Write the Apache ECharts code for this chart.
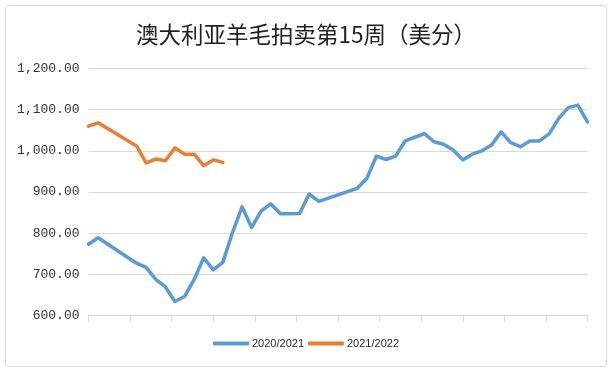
<!DOCTYPE html>
<html>
<head>
<meta charset="utf-8">
<script src="https://cdn.jsdelivr.net/npm/echarts@6/dist/echarts.min.js"></script>
<style>
html,body{margin:0;padding:0;background:#fff;}
#c{width:612px;height:372px;}
</style>
</head>
<body>
<div id="c"></div>
<script>
// week slots 0..52 (null = no sale that week)
var seriesNames = ['2020/2021', '2021/2022'];
var values2020 = [773, 789, null, null, null, 727, 717, 688, 670, 634, 646, 687, 740, 711, 729, 801, 864, 814, 854, 871, 847, 847, 848, 895, 877, null, null, null, 909, 933, 987, 979, 987, 1024, 1033, 1042, 1022, 1016, 1002, 978, 992, 1000, 1014, 1046, 1020, 1010, 1024, 1024, 1041, 1079, 1105, 1111, 1070];
var values2021 = [1060, 1068, null, null, null, 1012, 971, 980, 976, 1007, 992, 992, 964, 978, 972];
var yTicks = [600, 700, 800, 900, 1000, 1100, 1200];
var weekCount = 52;
var monthCount = 12;

function toPairs(arr) {
  var out = [];
  for (var i = 0; i < arr.length; i++) {
    if (arr[i] !== null) out.push([i, arr[i]]);
  }
  return out;
}
function fmt(v) {
  var s = Math.round(v).toString();
  s = s.replace(/\B(?=(\d{3})+(?!\d))/g, ',');
  return s + '.00';
}

var chart = echarts.init(document.getElementById('c'), null, {renderer: 'canvas'});
chart.setOption({
  backgroundColor: '#ffffff',
  animation: false,
  graphic: [{
    type: 'rect',
    shape: {x: 5.5, y: 5.5, width: 601, height: 361, r: 3},
    style: {fill: 'none', stroke: '#d9d9d9', lineWidth: 1},
    silent: true
  }],
  title: {
    text: '澳大利亚羊毛拍卖第15周（美分）',
    left: 'center',
    top: 18,
    textStyle: {
      fontFamily: '"Noto Sans CJK SC", sans-serif',
      fontSize: 22.5,
      fontWeight: 'normal',
      color: '#1f1f1f'
    }
  },
  legend: {
    bottom: 18,
    left: 'center',
    itemWidth: 36,
    itemHeight: 4,
    itemGap: 4,
    icon: 'roundRect',
    textStyle: {
      fontFamily: '"Liberation Sans", Arial, sans-serif',
      fontSize: 11,
      color: '#262626',
      padding: [0, 0, 0, -2]
    },
    data: seriesNames
  },
  grid: {left: 88.5, right: 24.5, top: 68.5, bottom: 56.5},
  xAxis: {
    type: 'value',
    min: 0,
    max: weekCount,
    interval: weekCount / monthCount,
    axisLabel: {show: false},
    axisLine: {show: true, lineStyle: {color: '#d9d9d9', width: 1}},
    axisTick: {show: true, length: 6, lineStyle: {color: '#d9d9d9'}},
    splitLine: {show: false}
  },
  yAxis: {
    type: 'value',
    min: yTicks[0],
    max: yTicks[yTicks.length - 1],
    interval: yTicks[1] - yTicks[0],
    axisLine: {show: false},
    axisTick: {show: false},
    axisLabel: {
      formatter: fmt,
      margin: 9,
      fontFamily: '"Liberation Mono", "DejaVu Sans Mono", monospace',
      fontSize: 13,
      color: '#333333'
    },
    splitLine: {lineStyle: {color: '#d9d9d9', width: 1}}
  },
  series: [{
    name: seriesNames[0],
    type: 'line',
    data: toPairs(values2020),
    showSymbol: false,
    symbol: 'none',
    color: '#5B9BD5',
    lineStyle: {width: 3.5, color: '#5B9BD5', join: 'round', cap: 'round'}
  }, {
    name: seriesNames[1],
    type: 'line',
    data: toPairs(values2021),
    showSymbol: false,
    symbol: 'none',
    color: '#ED7D31',
    lineStyle: {width: 3.5, color: '#ED7D31', join: 'round', cap: 'round'}
  }]
});
</script>
</body>
</html>
